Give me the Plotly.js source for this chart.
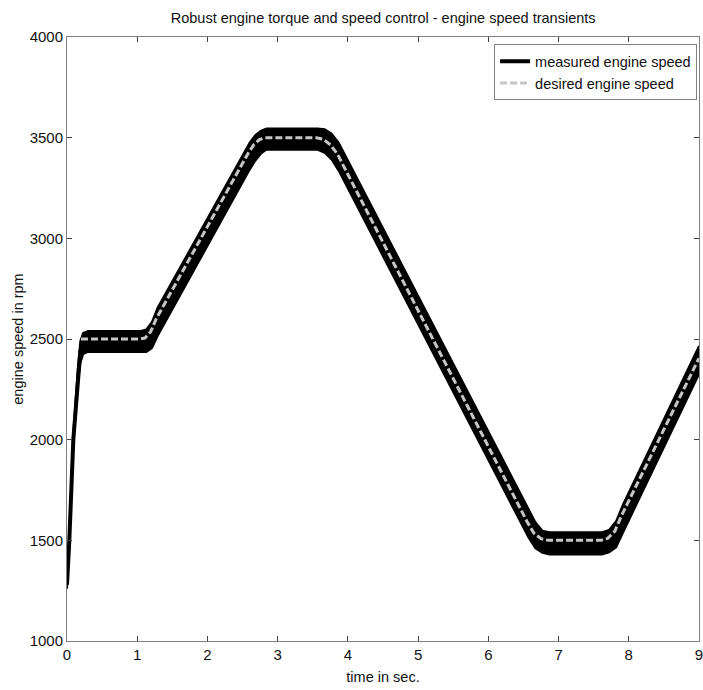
<!DOCTYPE html>
<html>
<head>
<meta charset="utf-8">
<script src="https://cdn.plot.ly/plotly-3.0.1.min.js"></script>
<style>
  html, body { margin: 0; padding: 0; background: #ffffff; }
  #chart { width: 703px; height: 690px; }
</style>
</head>
<body>
<div id="chart"></div>
<script>
// ---- data ----
const titleText = "Robust engine torque and speed control - engine speed transients";
const xLabel = "time in sec.";
const yLabel = "engine speed in rpm";
const seriesNames = ["measured engine speed", "desired engine speed"];

const xTicks = [0, 1, 2, 3, 4, 5, 6, 7, 8, 9];
const yTicks = [1000, 1500, 2000, 2500, 3000, 3500, 4000];

// desired engine speed (rpm) vs time (s)
const desiredT   = [0.2, 1.03, 1.11, 1.19, 1.27, 2.58, 2.66, 2.74, 2.82, 3.55, 3.65, 3.75, 3.85, 6.55, 6.65, 6.75, 6.85, 7.6, 7.7, 7.8, 7.9, 9.0];
const desiredRpm = [2500, 2500, 2505, 2535, 2600, 3423, 3465, 3490, 3500, 3500, 3492, 3465, 3419, 1594, 1535, 1508, 1500, 1500, 1510, 1545, 1625, 2405];

// measured engine speed: mean value and the upper / lower edge of the noise band
const measuredT   = [0, 0.033, 0.09, 0.15, 0.19, 0.23, 0.3, 1.05, 1.13, 1.21, 1.29, 2.6, 2.68, 2.76, 2.84, 3.57, 3.67, 3.77, 3.87, 6.57, 6.67, 6.77, 6.87, 7.62, 7.72, 7.82, 7.92, 9.0];
const measuredRpm = [1280, 1500, 2000, 2300, 2440, 2478, 2488, 2488, 2492, 2520, 2585, 3408, 3450, 3478, 3492, 3492, 3485, 3455, 3405, 1585, 1525, 1495, 1485, 1485, 1496, 1530, 1610, 2395];
const measuredHi  = [1300, 1530, 2030, 2340, 2490, 2530, 2540, 2540, 2548, 2585, 2655, 3475, 3512, 3534, 3546, 3546, 3542, 3520, 3475, 1655, 1590, 1548, 1540, 1540, 1552, 1595, 1680, 2465];
const measuredLo  = [1260, 1470, 1970, 2260, 2380, 2425, 2436, 2436, 2436, 2455, 2515, 3340, 3385, 3420, 3440, 3440, 3425, 3390, 3335, 1515, 1460, 1438, 1430, 1430, 1440, 1465, 1540, 2325];

// ---- traces ----
const traces = [
  { x: measuredT, y: measuredLo, type: "scatter", mode: "lines",
    line: { color: "#000000", width: 2 }, showlegend: false, hoverinfo: "skip" },
  { x: measuredT, y: measuredHi, type: "scatter", mode: "lines", fill: "tonexty",
    fillcolor: "#000000", line: { color: "#000000", width: 2 }, showlegend: false, hoverinfo: "skip" },
  { x: measuredT, y: measuredRpm, type: "scatter", mode: "lines", name: seriesNames[0],
    line: { color: "#000000", width: 4 } },
  { x: desiredT, y: desiredRpm, type: "scatter", mode: "lines", name: seriesNames[1],
    line: { color: "#c6c6c6", width: 3, dash: "7px,3px" } }
];

const fam = "Liberation Sans, Arial, sans-serif";
const axisCommon = {
  showgrid: false, zeroline: false,
  showline: true, linecolor: "#808080", linewidth: 1,
  mirror: "ticks", ticks: "inside", ticklen: 5, tickcolor: "#404040", tickwidth: 1,
  tickfont: { family: fam, size: 15, color: "#111111" },
  ticklabeloverflow: "allow"
};

const layout = {
  width: 703, height: 690,
  margin: { l: 67, r: 4, t: 37, b: 49 },
  paper_bgcolor: "#ffffff", plot_bgcolor: "#ffffff",
  font: { family: fam, size: 14.5, color: "#111111" },
  title: { text: titleText, font: { size: 14.5, color: "#111111" }, x: 0.545, xanchor: "center", y: 0.981, yanchor: "top" },
  xaxis: Object.assign({}, axisCommon, {
    range: [0, 9], tickvals: xTicks, ticktext: xTicks.map(String),
    title: { text: xLabel, font: { size: 14.5 }, standoff: 9 }
  }),
  yaxis: Object.assign({}, axisCommon, {
    range: [1000, 4000], tickvals: yTicks, ticktext: yTicks.map(String),
    title: { text: yLabel, font: { size: 14.5 }, standoff: 2 }
  }),
  legend: {
    x: 0.997, xanchor: "right", y: 0.988, yanchor: "top",
    bgcolor: "#ffffff", bordercolor: "#808080", borderwidth: 1,
    font: { size: 14.5, color: "#111111" },
    traceorder: "normal", itemwidth: 30, tracegroupgap: 0
  },
  showlegend: true
};

Plotly.newPlot("chart", traces, layout, { staticPlot: true, displayModeBar: false });
</script>
</body>
</html>
